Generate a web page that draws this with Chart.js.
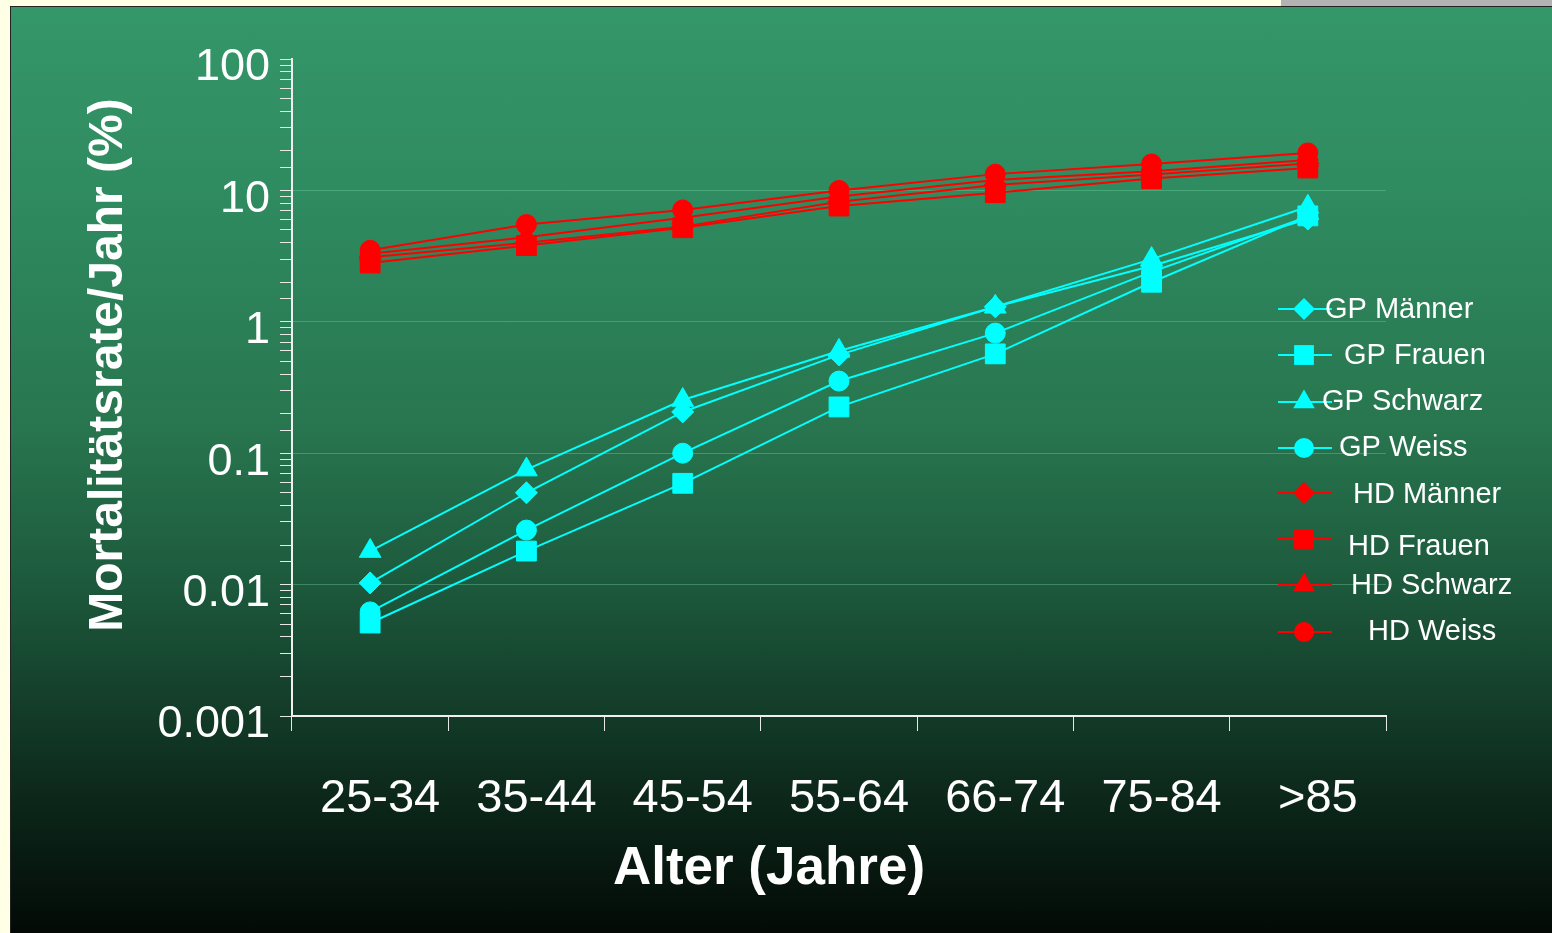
<!DOCTYPE html>
<html lang="de">
<head>
<meta charset="utf-8">
<title>Mortalitätsrate nach Alter</title>
<script src="https://cdn.jsdelivr.net/npm/chart.js@4.4.1/dist/chart.umd.min.js"></script>
<style>
html, body { margin: 0; padding: 0; width: 1552px; height: 933px; overflow: hidden; background: #ffffe6; }
#grau { position: absolute; left: 1281px; top: 0; width: 271px; height: 6px; background: #b3b3b3; }
#panel {
    position: absolute; left: 10px; top: 6px; width: 1541px; height: 926px;
    border-top: 1px solid #222; border-left: 1px solid #222;
    background: linear-gradient(to bottom, #349769 0%, #2f8b60 20%, #28764f 45%, #1d5a3d 62%, #143e2a 75%, #0b2418 87%, #030a06 100%);
}
canvas { display: block; }
</style>
</head>
<body>
<div id="grau"></div>
<div id="panel"><canvas id="grafik" width="1541" height="926"></canvas></div>
<script>
// ===== DATEN =====
const altersgruppen = ["25-34", "35-44", "45-54", "55-64", "66-74", "75-84", ">85"];

// Allgemeinbevölkerung (GP)
const gpMaenner = [0.0103, 0.05, 0.206, 0.56, 1.3, 2.66, 6.05];
const gpFrauen  = [0.0051, 0.018, 0.059, 0.225, 0.57, 2.0, 6.4];
const gpSchwarz = [0.018, 0.075, 0.254, 0.6, 1.3, 3.0, 7.5];
const gpWeiss   = [0.0062, 0.026, 0.1, 0.354, 0.82, 2.4, 6.3];

// Hämodialyse (HD)
const hdMaenner = [3.1, 4.0, 5.3, 8.2, 11, 13.2, 16];
const hdFrauen  = [2.8, 3.8, 5.2, 7.6, 9.6, 12.3, 14.8];
const hdSchwarz = [3.3, 4.4, 6.2, 9, 12, 14, 17];
const hdWeiss   = [3.5, 5.5, 7.1, 10, 13.3, 15.9, 19.3];

// Beschriftung der Zehnerpotenzen 0.001 ... 100
const yTickLabels = ["0.001", "0.01", "0.1", "1", "10", "100"];

// ===== STIL =====
const CYAN = "#00ffff";
const ROT = "#ff0000";
const SCHRIFT = "'Liberation Sans', Arial, sans-serif";

function serie(label, data, farbe, form, radius, i) {
    return {
        label: label,
        data: data,
        borderColor: farbe,
        backgroundColor: farbe,
        borderWidth: 2,
        pointStyle: form,
        pointRadius: radius,
        pointHoverRadius: radius,
        pointBorderWidth: 1,
        pointBorderColor: farbe,
        pointBackgroundColor: farbe,
        tension: 0,
        order: 8 - i
    };
}

function istPotenz(v) {
    const p = Math.log10(v);
    return Math.abs(p - Math.round(p)) < 1e-6;
}

// ===== LEGENDE (rechts, wie im Original) =====
const legende = {
    id: "legende",
    afterDraw(chart, args, opts) {
        const ctx = chart.ctx;
        ctx.save();
        chart.data.datasets.forEach((ds, i) => {
            const y = opts.markerY[i];
            ctx.strokeStyle = ds.borderColor;
            ctx.lineWidth = 2;
            ctx.beginPath();
            ctx.moveTo(opts.lineX0, y);
            ctx.lineTo(opts.lineX1, y);
            ctx.stroke();
            ctx.fillStyle = ds.backgroundColor;
            Chart.helpers.drawPoint(ctx, { pointStyle: ds.pointStyle, radius: ds.pointRadius, rotation: 0, borderWidth: 0 }, opts.markerX, y);
            ctx.fillStyle = "#ffffff";
            ctx.font = "29px " + SCHRIFT;
            ctx.textAlign = "left";
            ctx.textBaseline = "middle";
            ctx.fillText(ds.label, opts.textX[i], opts.textY[i]);
        });
        ctx.restore();
    }
};

// ===== ACHSENTITEL =====
const achsentitel = {
    id: "achsentitel",
    afterDraw(chart, args, opts) {
        const ctx = chart.ctx;
        ctx.save();
        ctx.fillStyle = "#ffffff";
        ctx.textAlign = "center";
        ctx.textBaseline = "middle";
        ctx.font = "bold 53px " + SCHRIFT;
        ctx.fillText(opts.x.text, opts.x.pos[0], opts.x.pos[1]);
        ctx.translate(opts.y.pos[0], opts.y.pos[1]);
        ctx.rotate(-Math.PI / 2);
        ctx.font = "bold 48px " + SCHRIFT;
        ctx.fillText(opts.y.text, 0, 0);
        ctx.restore();
    }
};

// ===== DIAGRAMM =====
const grafik = new Chart(document.getElementById("grafik"), {
    type: "line",
    data: {
        labels: altersgruppen,
        datasets: [
            serie("GP Männer", gpMaenner, CYAN, "rectRot", 11, 0),
            serie("GP Frauen", gpFrauen, CYAN, "rect", 14, 1),
            serie("GP Schwarz", gpSchwarz, CYAN, "triangle", 12.5, 2),
            serie("GP Weiss", gpWeiss, CYAN, "circle", 10, 3),
            serie("HD Männer", hdMaenner, ROT, "rectRot", 11, 4),
            serie("HD Frauen", hdFrauen, ROT, "rect", 14, 5),
            serie("HD Schwarz", hdSchwarz, ROT, "triangle", 12.5, 6),
            serie("HD Weiss", hdWeiss, ROT, "circle", 10, 7)
        ]
    },
    options: {
        responsive: false,
        animation: false,
        devicePixelRatio: 1,
        layout: { padding: { top: 52, right: 166, left: 0, bottom: 0 } },
        plugins: {
            legend: { display: false },
            tooltip: { enabled: false },
            legende: {
                lineX0: 1267, lineX1: 1321, markerX: 1293,
                markerY: [302, 348, 395, 441, 486, 532, 578, 625],
                textY: [303, 349, 395, 441, 488, 540, 579, 625],
                textX: [1314, 1333, 1311, 1328, 1342, 1337, 1340, 1357]
            },
            achsentitel: {
                x: { text: "Alter (Jahre)", pos: [758, 862] },
                y: { text: "Mortalitätsrate/Jahr (%)", pos: [98, 358] }
            }
        },
        scales: {
            x: {
                type: "category",
                offset: true,
                afterFit: (s) => { s.height = 217; },
                grid: {
                    offset: true,
                    drawOnChartArea: false,
                    tickLength: 15,
                    tickColor: "#e8e8e8",
                    lineWidth: 1
                },
                border: { color: "#f0f0f0", width: 2 },
                ticks: {
                    color: "#ffffff",
                    font: { family: SCHRIFT, size: 47 },
                    padding: 40,
                    labelOffset: 10,
                    maxRotation: 0,
                    autoSkip: false
                }
            },
            y: {
                type: "logarithmic",
                min: 0.001,
                max: 100,
                afterFit: (s) => { s.width = 281; },
                grid: {
                    color: (c) => (c.tick && istPotenz(c.tick.value) && c.tick.value > 0.001 && c.tick.value < 100) ? "rgba(120,220,170,0.35)" : "rgba(0,0,0,0)",
                    tickColor: "#e8e8e8",
                    tickLength: 12,
                    lineWidth: 1
                },
                border: { color: "#f0f0f0", width: 2 },
                ticks: {
                    color: "#ffffff",
                    font: { family: SCHRIFT, size: 45 },
                    padding: 10,
                    labelOffset: 9,
                    autoSkip: false,
                    callback: (v) => istPotenz(v) ? yTickLabels[Math.round(Math.log10(v)) + 3] : ""
                }
            }
        }
    },
    plugins: [legende, achsentitel]
});
</script>
</body>
</html>
